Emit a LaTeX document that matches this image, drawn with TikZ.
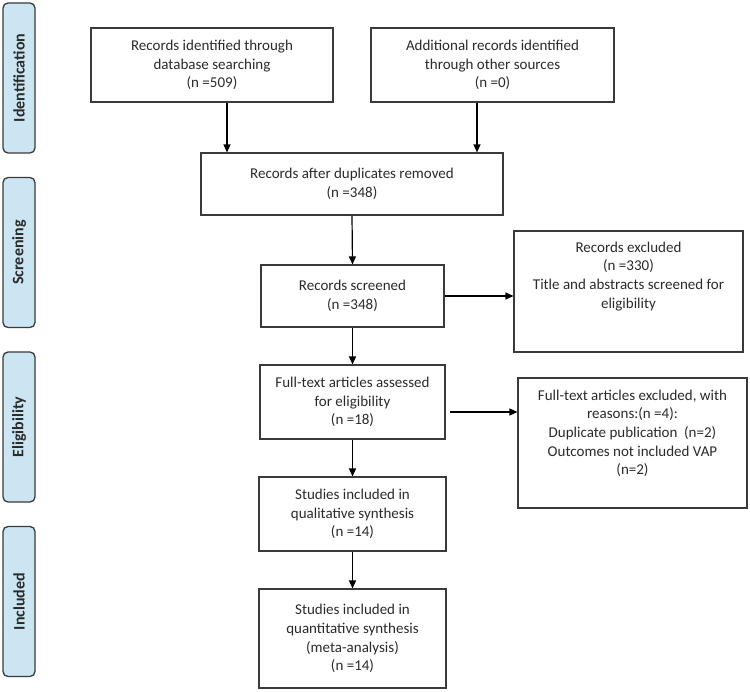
\documentclass[tikz,border=0pt]{standalone}
\usepackage{fontspec}
\setmainfont{Carlito}
\usetikzlibrary{arrows.meta}
\definecolor{pill}{HTML}{CCE5F3}
\definecolor{edge}{HTML}{3A3A3A}
\definecolor{ink}{HTML}{2A2A2A}
\begin{document}
\begin{tikzpicture}[x=1pt,y=-1pt,
  box/.style={draw=edge, line width=1.1pt, rectangle, align=center, text=ink,
    font=\fontsize{15}{18.7}\selectfont, inner sep=0pt},
  stage/.style={draw=edge, fill=pill, line width=1.3pt, rounded corners=5pt,
    minimum width=150pt, minimum height=32pt, rotate=90, text=ink,
    font=\fontsize{16}{19}\selectfont\bfseries},
  arr/.style={draw=black, line width=1.2pt, -{Triangle[length=8pt,width=7pt]}},
  txt/.style={align=center, text=ink, font=\fontsize{15}{18.7}\selectfont, inner sep=0pt}]
\useasboundingbox (0,0) rectangle (750,692);

% stage labels
\node[stage] (s1) at (19,78) {Identification};
\node[stage] (s2) at (19,252.5) {Screening};
\node[stage] (s3) at (19,427) {Eligibility};
\node[stage] (s4) at (19,601.5) {Included};

% boxes
\node[box, minimum width=242pt, minimum height=74pt] (A) at (212,65)
  {Records identified through\\database searching\\(n =509)};
\node[box, minimum width=243pt, minimum height=74pt] (B) at (492.5,65)
  {Additional records identified\\through other sources\\(n =0)};
\node[box, minimum width=302pt, minimum height=62pt] (C) at (352,184)
  {Records after duplicates removed\\(n =348)};
\node[box, minimum width=183pt, minimum height=62pt] (D) at (352.5,296)
  {Records screened\\(n =348)};
\node[box, minimum width=229pt, minimum height=121pt] (E) at (628.5,291.5) {};
\node[txt, anchor=north] (Et) at ([yshift=-11pt]E.north)
  {Records excluded\\(n =330)\\Title and abstracts screened for\\eligibility};
\node[box, minimum width=185pt, minimum height=74pt] (F) at (352.5,402)
  {Full-text articles assessed\\for eligibility\\(n =18)};
\node[box, minimum width=229pt, minimum height=130pt] (G) at (632.5,443) {};
\node[txt, anchor=north] (Gt) at ([yshift=-12pt]G.north)
  {Full-text articles excluded, with\\reasons:(n =4):\\Duplicate publication~~(n=2)\\Outcomes not included VAP\\(n=2)};
\node[box, minimum width=187pt, minimum height=74pt] (H) at (352.5,514)
  {Studies included in\\qualitative synthesis\\(n =14)};
\node[box, minimum width=187pt, minimum height=99pt] (I) at (352.5,638.5)
  {Studies included in\\quantitative synthesis\\(meta-analysis)\\(n =14)};

% connectors
\draw[arr] ([xshift=15pt]A.south) -- ([xshift=15pt]A.south |- C.north);
\draw[arr] ([xshift=-15.5pt]B.south) -- ([xshift=-15.5pt]B.south |- C.north);
\draw[arr] (C.south) -- (D.north);
\draw[arr] (D.east) -- (D.east -| E.west);
\draw[arr] (D.south) -- (F.north);
\draw[arr] ([xshift=4pt,yshift=-10pt]F.east) -- ([yshift=-10pt]F.east -| G.west);
\draw[arr] (F.south) -- (H.north);
\draw[arr] (H.south) -- (I.north);
\end{tikzpicture}
\end{document}
